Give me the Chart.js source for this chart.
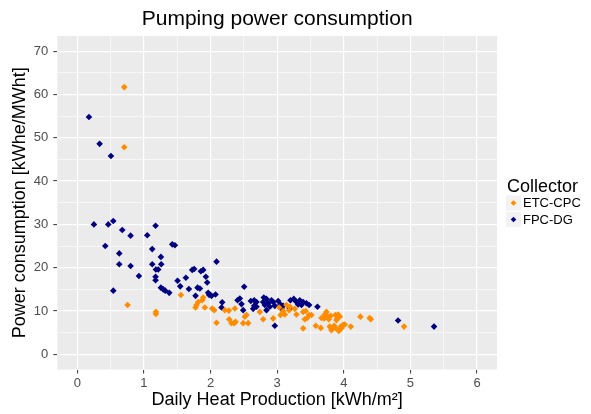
<!DOCTYPE html>
<html>
<head>
<meta charset="utf-8">
<title>Pumping power consumption</title>
<script src="https://cdn.jsdelivr.net/npm/chart.js@4"></script>
<style>
  html, body { margin: 0; padding: 0; background: #ffffff; }
  #wrap { position: relative; width: 591px; height: 414px; }
</style>
</head>
<body>
<div id="wrap"><canvas id="chart" width="591" height="414"></canvas></div>
<script>
// Collector types
const collectors = ['ETC-CPC', 'FPC-DG'];

// ETC-CPC: daily heat production [kWh/m²] and pumping power [kWhe/MWht]
const etcHeat = [0.705, 0.705, 0.755, 1.18, 1.18, 1.555, 1.89, 1.875, 1.815, 1.79,
  1.775, 1.915, 2.025, 2.055, 2.09, 2.215, 2.275, 2.28, 2.315, 2.355,
  2.375, 2.365, 2.49, 2.565, 2.515, 2.54, 2.74, 2.79, 2.94, 3.03,
  3.09, 3.05, 3.115, 3.14, 3.19, 3.18, 3.265, 3.29, 3.39, 3.43,
  3.48, 3.45, 3.415, 3.515, 3.39, 3.58, 3.655, 3.74, 3.715, 3.665,
  3.705, 3.76, 3.775, 3.805, 3.875, 3.915, 3.905, 3.94, 3.89, 3.79,
  3.825, 3.815, 3.855, 3.875, 3.955, 3.99, 4.015, 3.965, 3.925, 4.105,
  4.25, 4.39, 4.405, 4.905];
const etcPower = [61.7, 47.8, 11.4, 9.8, 9.3, 13.7, 13.1, 12.5, 12.1, 11.4,
  10.8, 10.8, 10.6, 10.2, 7.3, 10.2, 10.1, 8.1, 7.2, 7.2,
  7.5, 10.6, 7.2, 7.2, 8.7, 9.1, 9.8, 8.1, 8.3, 10.8,
  10.0, 9.1, 9.2, 11.4, 11.0, 10.2, 10.5, 9.2, 9.8, 10.0,
  9.1, 8.4, 8.1, 9.1, 6.0, 6.6, 6.1, 9.8, 9.2, 8.4,
  8.3, 8.7, 8.1, 8.9, 9.1, 9.2, 8.4, 8.7, 7.9, 6.4,
  6.0, 5.6, 6.6, 6.1, 6.4, 6.8, 6.9, 6.0, 5.4, 6.4,
  8.7, 8.4, 8.1, 6.4];

// FPC-DG
const fpcHeat = [0.175, 0.335, 0.505, 0.25, 0.465, 0.54, 0.675, 0.80, 1.05, 1.175,
  0.42, 0.63, 1.125, 1.255, 1.425, 1.465, 0.63, 0.80, 1.125, 1.26,
  1.18, 1.215, 0.925, 1.175, 1.175, 1.505, 0.54, 1.255, 1.29, 1.32,
  1.38, 1.545, 1.63, 1.675, 1.725, 1.755, 1.855, 1.89, 1.93, 1.95,
  1.805, 1.84, 1.775, 1.965, 1.98, 2.015, 2.075, 2.09, 2.505, 2.175,
  2.165, 2.405, 2.44, 2.465, 2.49, 2.605, 2.655, 2.69, 2.655, 2.69,
  2.64, 2.80, 2.84, 2.79, 2.815, 2.865, 2.915, 2.94, 2.89, 2.84,
  2.965, 3.015, 3.05, 3.09, 3.065, 3.19, 3.2, 3.25, 3.29, 3.34,
  3.39, 3.44, 3.48, 3.315, 3.365, 3.605, 2.965, 4.815, 5.355];
const fpcPower = [54.8, 48.6, 45.8, 30.0, 30.0, 30.8, 28.7, 27.4, 27.5, 29.7,
  25.0, 23.3, 24.3, 22.5, 25.4, 25.2, 20.8, 20.4, 20.8, 20.8,
  19.6, 19.6, 18.1, 17.9, 17.1, 17.0, 14.7, 15.4, 15.0, 14.7,
  14.2, 15.7, 17.7, 15.1, 19.5, 19.7, 19.2, 19.5, 17.9, 16.6,
  15.4, 15.2, 13.5, 14.2, 13.7, 13.5, 13.8, 21.4, 15.6, 12.0,
  10.8, 12.5, 12.9, 11.6, 10.2, 12.3, 12.5, 12.1, 11.2, 11.0,
  10.5, 13.1, 12.8, 12.1, 11.4, 11.8, 12.5, 12.1, 11.0, 10.2,
  11.2, 12.3, 11.5, 11.2, 10.5, 10.6, 12.5, 12.8, 12.1, 12.5,
  12.1, 11.8, 11.4, 11.5, 11.4, 11.0, 6.6, 7.8, 6.4];

// Axis ticks (labelled) and the in-between grid positions
const xTickLabels = [0, 1, 2, 3, 4, 5, 6];
const xMinorGrid = [0.5, 1.5, 2.5, 3.5, 4.5, 5.5];
const yTickLabels = [0, 10, 20, 30, 40, 50, 60, 70];
const yMinorGrid = [5, 15, 25, 35, 45, 55, 65];

const seriesColors = ['#FF8C00', '#000080'];

function toPoints(xs, ys) {
  return xs.map((x, i) => ({ x: x, y: ys[i] }));
}

const FONT = '"Liberation Sans", Arial, Helvetica, sans-serif';

// grey panel behind the grid
const panelBackground = {
  id: 'panelBackground',
  beforeDraw(chart) {
    const { ctx, chartArea: a } = chart;
    ctx.save();
    ctx.fillStyle = '#ffffff';
    ctx.fillRect(0, 0, chart.width, chart.height);
    ctx.fillStyle = '#EBEBEB';
    ctx.fillRect(a.left, a.top, a.right - a.left, a.bottom - a.top);
    ctx.restore();
  }
};

// plot title centred on the panel, and the legend to its right
const titleAndLegend = {
  id: 'titleAndLegend',
  afterDraw(chart) {
    const { ctx, chartArea: a } = chart;
    ctx.save();
    ctx.fillStyle = '#000000';
    ctx.font = '21px ' + FONT;
    ctx.textAlign = 'center';
    ctx.textBaseline = 'middle';
    ctx.fillText('Pumping power consumption', (a.left + a.right) / 2, 19);

    const lx = a.right + 10;
    ctx.textAlign = 'left';
    ctx.font = '18px ' + FONT;
    ctx.fillText('Collector', lx, 187);

    ctx.font = '13px ' + FONT;
    chart.data.datasets.forEach((ds, i) => {
      const cy = 203 + i * 16.5;
      ctx.fillStyle = '#F2F2F2';
      ctx.fillRect(lx - 1, cy - 7.5, 15, 15);
      ctx.fillStyle = ds.backgroundColor;
      ctx.beginPath();
      ctx.moveTo(lx + 6.5 - 2.8, cy);
      ctx.lineTo(lx + 6.5, cy - 2.8);
      ctx.lineTo(lx + 6.5 + 2.8, cy);
      ctx.lineTo(lx + 6.5, cy + 2.8);
      ctx.closePath();
      ctx.fill();
      ctx.fillStyle = '#000000';
      ctx.fillText(ds.label, lx + 16, cy + 0.5);
    });
    ctx.restore();
  }
};

function gridWidth(ctx, majors) {
  return ctx.tick && majors.includes(ctx.tick.value) ? 1.2 : 0.6;
}
function tickColor(ctx, majors) {
  return ctx.tick && majors.includes(ctx.tick.value) ? '#333333' : 'rgba(0,0,0,0)';
}

new Chart(document.getElementById('chart'), {
  type: 'scatter',
  data: {
    datasets: [
      {
        label: collectors[0],
        data: toPoints(etcHeat, etcPower),
        backgroundColor: seriesColors[0],
        borderWidth: 0,
        pointStyle: 'rectRot',
        pointRadius: 3.3,
        pointHoverRadius: 3.3
      },
      {
        label: collectors[1],
        data: toPoints(fpcHeat, fpcPower),
        backgroundColor: seriesColors[1],
        borderWidth: 0,
        pointStyle: 'rectRot',
        pointRadius: 3.3,
        pointHoverRadius: 3.3
      }
    ]
  },
  plugins: [panelBackground, titleAndLegend],
  options: {
    responsive: false,
    animation: false,
    events: [],
    layout: { padding: { top: 36, right: 94, left: 0, bottom: 0 } },
    plugins: {
      legend: { display: false },
      title: { display: false },
      tooltip: { enabled: false }
    },
    scales: {
      x: {
        type: 'linear',
        min: -0.3,
        max: 6.3,
        afterBuildTicks(scale) {
          scale.ticks = xTickLabels.concat(xMinorGrid).sort((a, b) => a - b).map(v => ({ value: v }));
        },
        afterFit(scale) { scale.height = 44.5; },
        border: { display: false },
        grid: {
          color: '#ffffff',
          lineWidth: ctx => gridWidth(ctx, xTickLabels),
          drawTicks: true,
          tickLength: 4,
          tickWidth: 1,
          tickColor: ctx => tickColor(ctx, xTickLabels)
        },
        ticks: {
          autoSkip: false,
          maxRotation: 0,
          padding: 2,
          color: '#4D4D4D',
          font: { family: FONT, size: 13 },
          callback: v => (xTickLabels.includes(v) ? String(v) : '')
        },
        title: {
          display: true,
          text: 'Daily Heat Production [kWh/m²]',
          color: '#000000',
          font: { family: FONT, size: 18 },
          padding: { top: 0, bottom: 3 }
        }
      },
      y: {
        type: 'linear',
        min: -3.5,
        max: 73.5,
        afterBuildTicks(scale) {
          scale.ticks = yTickLabels.concat(yMinorGrid).sort((a, b) => a - b).map(v => ({ value: v }));
        },
        afterFit(scale) { scale.width = 57.3; },
        border: { display: false },
        grid: {
          color: '#ffffff',
          lineWidth: ctx => gridWidth(ctx, yTickLabels),
          drawTicks: true,
          tickLength: 4,
          tickWidth: 1,
          tickColor: ctx => tickColor(ctx, yTickLabels)
        },
        ticks: {
          autoSkip: false,
          padding: 5,
          color: '#4D4D4D',
          font: { family: FONT, size: 13 },
          callback: v => (yTickLabels.includes(v) ? String(v) : '')
        },
        title: {
          display: true,
          text: 'Power consumption [kWhe/MWht]',
          color: '#000000',
          font: { family: FONT, size: 18 },
          padding: { top: 9, bottom: 0 }
        }
      }
    }
  }
});
</script>
</body>
</html>
